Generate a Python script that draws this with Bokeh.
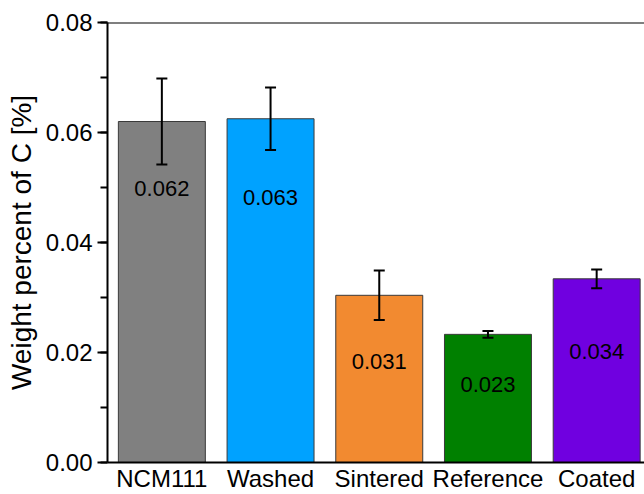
from bokeh.plotting import figure
from bokeh.models import (ColumnDataSource, Range1d, SingleIntervalTicker, FixedTicker,
                          Whisker, TeeHead, Span, LabelSet, PrintfTickFormatter)
from bokeh.core.properties import value
from bokeh.embed import file_html
from bokeh.resources import INLINE

categories = ["NCM111", "Washed", "Sintered", "Reference", "Coated"]
values = [0.0620, 0.0625, 0.0304, 0.0233, 0.0334]
errors = [0.0078, 0.0057, 0.0045, 0.0006, 0.0017]
value_labels = ["0.062", "0.063", "0.031", "0.023", "0.034"]
label_y = [0.0498, 0.0482, 0.0184, 0.0142, 0.0202]
colors = ["#808080", "#00a2ff", "#f28a30", "#008000", "#7000e0"]

x = list(range(1, len(categories) + 1))
src = ColumnDataSource(dict(
    x=x, top=values, color=colors,
    upper=[v + e for v, e in zip(values, errors)],
    lower=[v - e for v, e in zip(values, errors)],
    lab=value_labels, ly=label_y,
))

FONT = "Liberation Sans"

p = figure(width=644, height=494, output_backend="svg", toolbar_location=None,
           x_range=Range1d(0.5, 5.44), y_range=Range1d(0, 0.08),
           min_border_left=107, min_border_top=22, min_border_right=0, min_border_bottom=32)
p.outline_line_color = None
p.grid.grid_line_color = None
p.background_fill_color = "white"
p.border_fill_color = "white"

p.vbar(x="x", top="top", width=0.8, source=src, fill_color="color",
       line_color="#3a3a3a", line_width=1)

err = Whisker(base="x", upper="upper", lower="lower", source=src,
              line_color="black", line_width=2, level="overlay",
              upper_head=TeeHead(size=11, line_color="black", line_width=2),
              lower_head=TeeHead(size=11, line_color="black", line_width=2))
p.add_layout(err)

labels = LabelSet(x="x", y="ly", text="lab", source=src, text_align="center",
                  text_baseline="middle", text_font=value(FONT), text_font_size="22px",
                  text_color="black")
p.add_layout(labels)

p.add_layout(Span(location=0.08, dimension="width", line_color="black", line_width=2))

# y axis
yax = p.yaxis[0]
yax.ticker = SingleIntervalTicker(interval=0.02, num_minor_ticks=2)
yax.formatter = PrintfTickFormatter(format="%.2f")
yax.axis_label = "Weight percent of C [%]"
yax.axis_label_text_font = FONT
yax.axis_label_text_font_style = "normal"
yax.axis_label_text_font_size = "28px"
yax.axis_label_text_color = "black"
yax.axis_label_standoff = 6
yax.major_label_text_font = FONT
yax.major_label_text_font_size = "24px"
yax.major_label_text_color = "black"
yax.major_label_standoff = 5
yax.axis_line_width = 2
yax.axis_line_color = "black"
yax.major_tick_out = 10
yax.major_tick_in = 0
yax.minor_tick_out = 7
yax.minor_tick_in = 0
yax.major_tick_line_width = 2
yax.minor_tick_line_width = 2

# x axis
xax = p.xaxis[0]
xax.ticker = FixedTicker(ticks=x)
xax.major_label_overrides = {i: c for i, c in zip(x, categories)}
xax.major_label_text_font = FONT
xax.major_label_text_font_size = "24px"
xax.major_label_text_color = "black"
xax.major_label_standoff = 2
xax.major_tick_out = 0
xax.major_tick_in = 0
xax.minor_tick_out = 0
xax.minor_tick_in = 0
xax.major_tick_line_color = None
xax.minor_tick_line_color = None
xax.axis_line_width = 2
xax.axis_line_color = "black"

open("out.html", "w").write(file_html(p, INLINE))
